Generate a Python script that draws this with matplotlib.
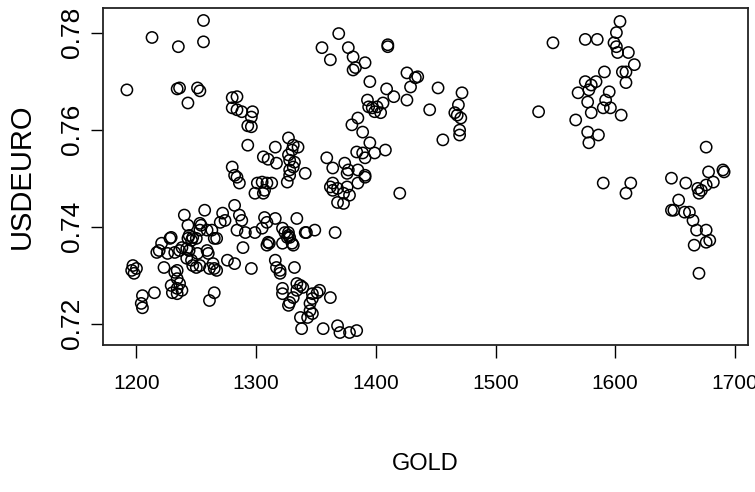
import matplotlib
matplotlib.use("Agg")
import matplotlib.pyplot as plt
from matplotlib import font_manager

gold = [
    1256, 1256, 1213, 1235, 1192, 1234, 1236, 1243, 1251, 1253,
    1280, 1284, 1280, 1284, 1288, 1297, 1296, 1293, 1296, 1293,
    1316, 1327, 1331, 1335, 1306, 1310, 1317, 1327, 1328, 1331,
    1332, 1341, 1280, 1282, 1328, 1330, 1328, 1326, 1284, 1286,
    1301, 1299, 1306, 1309, 1313, 1305, 1307, 1282, 1286, 1288,
    1272, 1274, 1270, 1257, 1240, 1243, 1244, 1247, 1250, 1246,
    1243, 1253, 1254, 1259, 1263, 1265, 1284, 1291, 1299, 1305,
    1307, 1309, 1316, 1322, 1324, 1327, 1328, 1326, 1334, 1341,
    1349, 1331, 1309, 1310, 1289, 1228, 1229, 1221, 1219, 1217,
    1226, 1236, 1238, 1242, 1232, 1242, 1246, 1247, 1250, 1253,
    1259, 1260, 1261, 1265, 1264, 1276, 1282, 1296, 1223, 1232,
    1234, 1236, 1234, 1229, 1238, 1234, 1230, 1215, 1205, 1204,
    1205, 1197, 1200, 1198, 1196, 1265, 1261, 1316, 1317, 1320,
    1320, 1332, 1334, 1337, 1334, 1331, 1328, 1339, 1322, 1322,
    1347, 1345, 1347, 1343, 1337, 1338, 1311, 1322, 1330, 1327,
    1366, 1351, 1353, 1347, 1362, 1345, 1356, 1368, 1370, 1378,
    1384, 1327, 1391, 1385, 1376, 1364, 1364, 1373, 1378, 1373,
    1368, 1420, 1342, 1359, 1364, 1374, 1377, 1362, 1368, 1369,
    1355, 1362, 1377, 1381, 1383, 1381, 1391, 1410, 1410, 1395,
    1409, 1415, 1426, 1426, 1433, 1429, 1435, 1452, 1472, 1469,
    1468, 1471, 1466, 1445, 1393, 1394, 1397, 1401, 1404, 1399,
    1406, 1380, 1385, 1389, 1395, 1456, 1470, 1470, 1384, 1389,
    1391, 1399, 1408, 1376, 1391, 1385, 1548, 1575, 1585, 1604,
    1601, 1599, 1601, 1602, 1611, 1616, 1606, 1609, 1609, 1591,
    1575, 1580, 1584, 1569, 1578, 1577, 1580, 1590, 1595, 1592,
    1596, 1605, 1536, 1567, 1577, 1578, 1586, 1590, 1613, 1609,
    1676, 1647, 1659, 1669, 1672, 1670, 1676, 1678, 1682, 1690,
    1691, 1653, 1647, 1649, 1658, 1662, 1665, 1668, 1676, 1679,
    1676, 1666, 1670, 1251, 1267, 1253, 1267, 1234, 1244,
]

usdeuro = [
    0.7825, 0.7781, 0.7790, 0.7771, 0.7682, 0.7684, 0.7686, 0.7655, 0.7686, 0.7680,
    0.7666, 0.7668, 0.7645, 0.7641, 0.7637, 0.7637, 0.7626, 0.7608, 0.7606, 0.7568,
    0.7564, 0.7583, 0.7568, 0.7564, 0.7544, 0.7539, 0.7531, 0.7548, 0.7537, 0.7523,
    0.7533, 0.7510, 0.7523, 0.7506, 0.7506, 0.7558, 0.7517, 0.7492, 0.7502, 0.7490,
    0.7490, 0.7469, 0.7469, 0.7490, 0.7490, 0.7492, 0.7475, 0.7444, 0.7424, 0.7413,
    0.7428, 0.7413, 0.7409, 0.7434, 0.7424, 0.7403, 0.7382, 0.7378, 0.7376, 0.7372,
    0.7376, 0.7393, 0.7403, 0.7393, 0.7393, 0.7376, 0.7393, 0.7388, 0.7388, 0.7397,
    0.7419, 0.7409, 0.7417, 0.7397, 0.7388, 0.7388, 0.7378, 0.7378, 0.7417, 0.7388,
    0.7393, 0.7362, 0.7362, 0.7368, 0.7357, 0.7376, 0.7378, 0.7366, 0.7351, 0.7347,
    0.7345, 0.7351, 0.7357, 0.7355, 0.7347, 0.7335, 0.7331, 0.7320, 0.7316, 0.7320,
    0.7351, 0.7345, 0.7314, 0.7314, 0.7324, 0.7331, 0.7324, 0.7314, 0.7316, 0.7306,
    0.7293, 0.7283, 0.7273, 0.7279, 0.7269, 0.7262, 0.7264, 0.7264, 0.7258, 0.7242,
    0.7233, 0.7320, 0.7314, 0.7304, 0.7310, 0.7264, 0.7248, 0.7331, 0.7316, 0.7310,
    0.7304, 0.7316, 0.7283, 0.7279, 0.7269, 0.7254, 0.7244, 0.7275, 0.7273, 0.7262,
    0.7262, 0.7242, 0.7221, 0.7213, 0.7213, 0.7190, 0.7366, 0.7366, 0.7366, 0.7382,
    0.7388, 0.7264, 0.7269, 0.7252, 0.7254, 0.7227, 0.7190, 0.7196, 0.7182, 0.7182,
    0.7186, 0.7238, 0.7502, 0.7490, 0.7482, 0.7490, 0.7475, 0.7469, 0.7465, 0.7448,
    0.7450, 0.7469, 0.7388, 0.7542, 0.7521, 0.7531, 0.7517, 0.7482, 0.7479, 0.7798,
    0.7769, 0.7744, 0.7769, 0.7750, 0.7728, 0.7723, 0.7738, 0.7771, 0.7775, 0.7699,
    0.7684, 0.7668, 0.7661, 0.7717, 0.7707, 0.7688, 0.7709, 0.7686, 0.7676, 0.7651,
    0.7630, 0.7624, 0.7635, 0.7641, 0.7661, 0.7647, 0.7645, 0.7647, 0.7635, 0.7637,
    0.7655, 0.7610, 0.7624, 0.7595, 0.7573, 0.7579, 0.7589, 0.7599, 0.7554, 0.7552,
    0.7542, 0.7552, 0.7558, 0.7510, 0.7506, 0.7517, 0.7779, 0.7786, 0.7786, 0.7823,
    0.7800, 0.7779, 0.7771, 0.7759, 0.7759, 0.7734, 0.7719, 0.7719, 0.7697, 0.7719,
    0.7699, 0.7692, 0.7699, 0.7676, 0.7682, 0.7657, 0.7635, 0.7645, 0.7678, 0.7661,
    0.7645, 0.7630, 0.7637, 0.7620, 0.7595, 0.7573, 0.7589, 0.7490, 0.7490, 0.7469,
    0.7564, 0.7500, 0.7490, 0.7479, 0.7475, 0.7469, 0.7486, 0.7513, 0.7492, 0.7517,
    0.7513, 0.7455, 0.7434, 0.7434, 0.7430, 0.7430, 0.7413, 0.7393, 0.7393, 0.7372,
    0.7368, 0.7362, 0.7304, 0.7345, 0.7310, 0.7407, 0.7376, 0.7310, 0.7351,
]

x_ticks = [1200, 1300, 1400, 1500, 1600, 1700]
y_ticks = [0.72, 0.74, 0.76, 0.78]
y_ticklabels = ["0.72", "0.74", "0.76", "0.78"]
x_label = "GOLD"
y_label = "USDEURO"

names = {f.name for f in font_manager.fontManager.ttflist}
narrow = "Liberation Sans Narrow" if "Liberation Sans Narrow" in names else "Liberation Sans"

fig = plt.figure(figsize=(7.55, 4.92), dpi=100)
ax = fig.add_axes([103 / 755, 1 - 345 / 492, 645 / 755, 337 / 492])

ax.scatter(gold, usdeuro, s=66, facecolors="none", edgecolors="black", linewidths=1.1)

xmin, xmax = min(gold), max(gold)
ymin, ymax = min(usdeuro), max(usdeuro)
xr, yr = xmax - xmin, ymax - ymin
ax.set_xlim(xmin - 0.04 * xr, xmax + 0.04 * xr)
ax.set_ylim(ymin - 0.04 * yr, ymax + 0.04 * yr)

ax.set_xticks(x_ticks)
ax.set_xticklabels([str(t) for t in x_ticks], fontfamily=narrow, fontsize=15)
ax.set_yticks(y_ticks)
ax.set_yticklabels(y_ticklabels, fontfamily="Liberation Sans", fontsize=19,
                   rotation=90, va="center")
ax.tick_params(axis="x", length=9, width=1, pad=12, colors="black")
ax.tick_params(axis="y", length=9, width=1, pad=5, colors="black")

for sp in ax.spines.values():
    sp.set_linewidth(1.3)
    sp.set_color("#222222")

ax.set_xlabel(x_label, fontfamily=narrow, fontsize=17)
ax.xaxis.set_label_coords(0.5, -0.32)
ax.set_ylabel(y_label, fontfamily="Liberation Sans", fontsize=21)
ax.yaxis.label.set_va("center")
ax.yaxis.set_label_coords(-0.126, 0.5)

fig.savefig("out.png", dpi=100)
